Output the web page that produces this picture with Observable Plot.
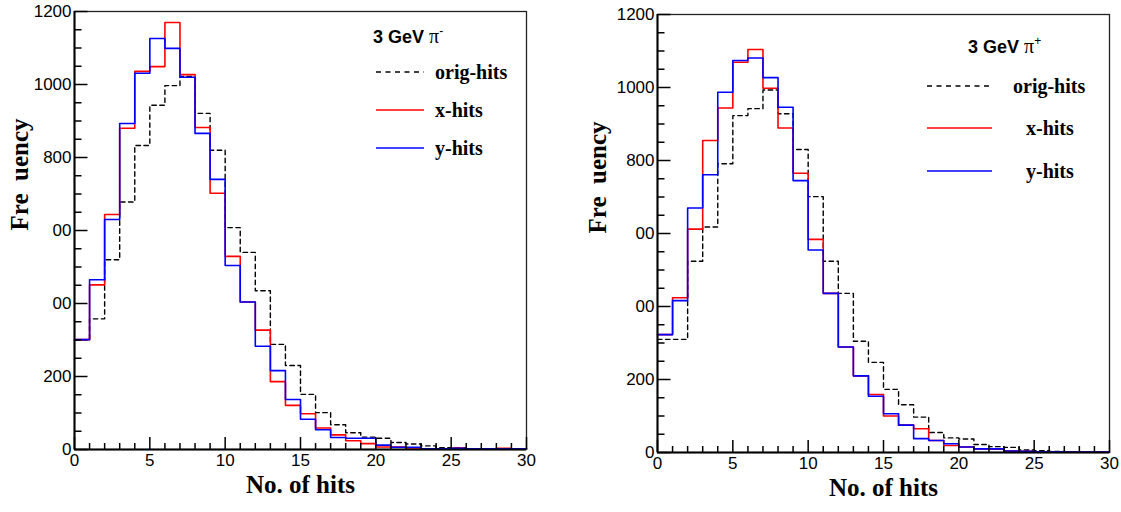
<!DOCTYPE html>
<html><head><meta charset="utf-8">
<script src="https://cdn.jsdelivr.net/npm/d3@7"></script>
<script src="https://cdn.jsdelivr.net/npm/@observablehq/plot@0.6"></script>
<style>
body{margin:0;background:#fff;}
#wrap{position:relative;width:1121px;height:512px;overflow:hidden;background:#fff;}
.panel{position:absolute;top:0;}
#leg{position:absolute;top:0;left:0;pointer-events:none;}
</style></head><body><div id="wrap"></div>
<script>
// ---- data ----
const binLow = d3.range(0, 30);          // lower edge of each 1-hit bin
const xMax = 30;
const xTitle = "No. of hits";
const yTitle = "Fre\u2002uency";
const xTickValues = [0, 5, 10, 15, 20, 25, 30];
const yTickValues = [0, 200, 400, 600, 800, 1000, 1200];
const yTickLabels = ["0", "200", "00", "00", "800", "1000", "1200"];
const seriesNames = ["orig-hits", "x-hits", "y-hits"];

// 3 GeV pi-
const piMinusOrig = [300, 358, 520, 678, 833, 943, 997, 1022, 921, 820, 608, 540, 435, 288, 230, 151, 101, 68, 46, 34, 31, 19, 15, 10, 5, 4, 2, 1, 1, 1];
const piMinusX    = [301, 451, 644, 880, 1036, 1049, 1170, 1027, 882, 702, 529, 404, 327, 186, 121, 98, 59, 40, 24, 16, 7, 7, 4, 2, 2, 4, 2, 2, 3, 2];
const piMinusY    = [301, 465, 630, 893, 1031, 1126, 1099, 1020, 866, 740, 504, 404, 283, 216, 137, 83, 54, 33, 31, 31, 12, 6, 6, 2, 2, 3, 2, 2, 2, 2];

// 3 GeV pi+
const piPlusOrig = [310, 310, 524, 618, 791, 923, 942, 993, 928, 830, 701, 524, 436, 305, 247, 173, 131, 97, 55, 40, 37, 22, 16, 14, 7, 5, 3, 2, 2, 1];
const piPlusX    = [323, 424, 612, 855, 944, 1069, 1104, 998, 889, 765, 584, 436, 289, 210, 159, 100, 75, 65, 33, 19, 15, 10, 9, 4, 3, 2, 2, 1, 1, 2];
const piPlusY    = [323, 416, 670, 761, 987, 1074, 1081, 1027, 946, 745, 555, 436, 289, 210, 154, 106, 75, 38, 33, 24, 15, 10, 10, 4, 3, 2, 2, 1, 1, 1];

// ---- helpers ----
function step(vals) {
  const d = vals.map((v, i) => ({x: binLow[i], y: v}));
  d.push({x: xMax, y: vals[vals.length - 1]});
  return d;
}
const tickShape = {draw(ctx, l) { ctx.moveTo(0, 0); ctx.lineTo(0, -l); }};
const xMinor = d3.range(0, 31, 1).filter(v => v % 5 !== 0);
const yMinor = d3.range(0, 1201, 50).filter(v => v % 200 !== 0);

function panel(cfg, orig, xh, yh) {
  const tick = (data, isX, len) => Plot.vector(data, {
    x: isX ? (d => d) : (d => 0),
    y: isX ? (d => 0) : (d => d),
    length: len, shape: tickShape, anchor: "start", rotate: isX ? 0 : 90,
    stroke: "#000", strokeWidth: 1.5, strokeLinecap: "butt"
  });
  return Plot.plot({
    width: cfg.width, height: 512,
    marginLeft: cfg.ml, marginRight: cfg.mr, marginTop: cfg.mt, marginBottom: cfg.mb,
    x: {domain: [0, xMax], axis: null, label: null},
    y: {domain: [0, 1200], axis: null, label: null},
    style: {fontFamily: "'Liberation Sans', Arial, sans-serif", fontSize: "17px", background: "transparent", color: "#000", overflow: "visible"},
    marks: [
      Plot.frame({stroke: "#222", strokeWidth: 1.3}),
      Plot.line(step(orig), {x: "x", y: "y", curve: "step-after", stroke: "#000", strokeWidth: 1.4, strokeDasharray: "4.5,3.5"}),
      Plot.line(step(xh), {x: "x", y: "y", curve: "step-after", stroke: "#ff0000", strokeWidth: 1.6}),
      Plot.line(step(yh), {x: "x", y: "y", curve: "step-after", stroke: "#0000ff", strokeWidth: 1.6}),
      Plot.ruleX([0], {stroke: "#000", strokeWidth: 2}),
      Plot.ruleY([0], {stroke: "#000", strokeWidth: 2}),
      tick(xMinor, true, 6.5),
      tick(xTickValues, true, 12.5),
      tick(yMinor, false, 7),
      tick(yTickValues, false, 13),
      Plot.axisX(xTickValues, {tickSize: 0, tickPadding: 4, fontSize: 17, label: null}),
      Plot.axisY(yTickValues, {tickSize: 0, tickPadding: 3, fontSize: 17, label: null,
        tickFormat: d => yTickLabels[yTickValues.indexOf(d)]}),
      Plot.text([xTitle], {frameAnchor: "bottom", dy: 43, fontSize: 25, fontWeight: "bold", fontFamily: "'Liberation Serif', 'Times New Roman', serif"}),
      Plot.text([yTitle], {frameAnchor: "left", rotate: -90, dx: cfg.ydx, fontSize: 25, fontWeight: "bold", fontFamily: "'Liberation Serif', 'Times New Roman', serif"})
    ]
  });
}

const wrap = document.getElementById("wrap");
const cfgL = {left: 0, width: 560, ml: 74, mr: 34, mt: 11, mb: 63, ydx: -55};
const cfgR = {left: 560, width: 561, ml: 97, mr: 12, mt: 14, mb: 60, ydx: -60};
for (const [cfg, o, a, b] of [[cfgL, piMinusOrig, piMinusX, piMinusY], [cfgR, piPlusOrig, piPlusX, piPlusY]]) {
  const div = document.createElement("div");
  div.className = "panel";
  div.style.left = cfg.left + "px";
  div.appendChild(panel(cfg, o, a, b));
  wrap.appendChild(div);
}

// ---- legends ----
const legends = [
  {title: {x: 373, y: 43, sign: "-"}, x1: 376, x2: 424, tx: [435, 435, 435], ys: [72, 110, 148]},
  {title: {x: 968, y: 53, sign: "+"}, x1: 927, x2: 992, tx: [1013, 1026, 1026], ys: [86, 128, 171]}
];
const styles = [
  {stroke: "#000", dash: "5,4.5", w: 1.4},
  {stroke: "#ff0000", dash: null, w: 1.6},
  {stroke: "#0000ff", dash: null, w: 1.6}
];
const svg = d3.select(wrap).append("svg").attr("id", "leg").attr("width", 1121).attr("height", 512);
for (const L of legends) {
  const t = svg.append("text").attr("x", L.title.x).attr("y", L.title.y).attr("fill", "#000");
  t.append("tspan").attr("font-family", "'Liberation Sans', Arial, sans-serif").attr("font-weight", "bold").attr("font-size", 18).text("3 GeV ");
  t.append("tspan").attr("font-family", "'Liberation Serif', serif").attr("font-size", 20).text("π");
  t.append("tspan").attr("font-family", "'Liberation Sans', Arial, sans-serif").attr("font-size", 12).attr("dy", -8).text(L.title.sign);
  seriesNames.forEach((name, i) => {
    const s = styles[i];
    const ln = svg.append("line").attr("x1", L.x1).attr("x2", L.x2).attr("y1", L.ys[i]).attr("y2", L.ys[i])
      .attr("stroke", s.stroke).attr("stroke-width", s.w);
    if (s.dash) ln.attr("stroke-dasharray", s.dash);
    svg.append("text").attr("x", L.tx[i]).attr("y", L.ys[i] + 6.5)
      .attr("font-family", "'Liberation Serif', 'Times New Roman', serif").attr("font-weight", "bold").attr("font-size", 20)
      .attr("fill", "#000").text(name);
  });
}
</script>
</body></html>
